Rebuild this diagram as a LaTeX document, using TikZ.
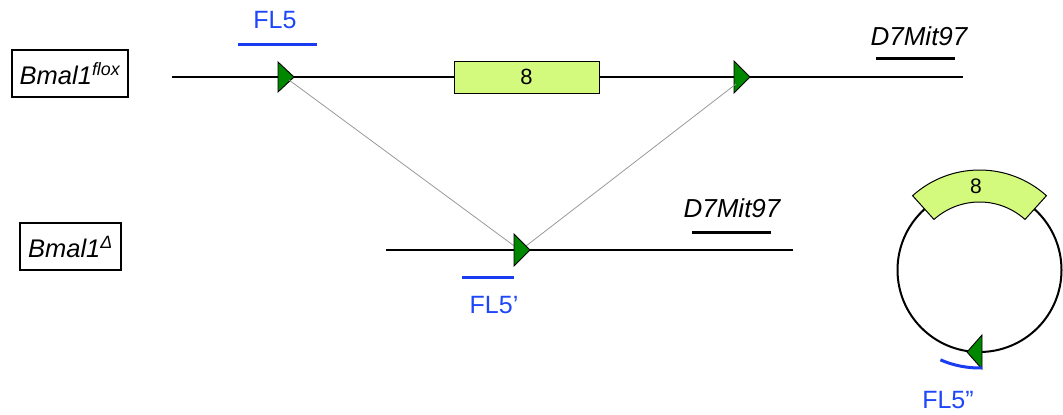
\documentclass[tikz,border=0pt]{standalone}
\usepackage{fontspec}
\setmainfont{Liberation Sans}
\definecolor{loxgreen}{RGB}{0,135,0}
\definecolor{exonfill}{RGB}{212,250,125}
\definecolor{barblue}{RGB}{25,60,240}
\definecolor{txtblue}{RGB}{30,70,250}
\begin{document}
\begin{tikzpicture}[x=1pt,y=-1pt,
  chrom/.style={line width=2.4pt},
  lox/.style={fill=loxgreen, draw=black, line width=0.9pt, line join=miter},
  exon/.style={draw=black, fill=exonfill, line width=1pt, inner sep=0pt, font=\fontsize{22}{24}\selectfont},
  probe/.style={draw=barblue, line width=3pt},
  marker/.style={draw=black, line width=3pt},
  probetxt/.style={text=txtblue, inner sep=0pt, font=\fontsize{25}{27}\selectfont},
  markertxt/.style={inner sep=0pt, font=\fontsize{26}{28}\selectfont\itshape},
  allele/.style={draw=black, line width=1.3pt, inner sep=0pt, font=\fontsize{25.5}{28}\selectfont\itshape},
  recomb/.style={draw=gray!80, line width=0.8pt}]
\useasboundingbox (0,0) rectangle (1063,415);

% allele labels
\node[allele, minimum width=116, minimum height=47] (flox) at (70,73.5) {Bmal1\textsuperscript{flox}};
\node[allele, minimum width=101, minimum height=47] (del) at (70.5,246.5) {Bmal1\textsuperscript{Δ}};

% top chromosome
\coordinate (t1) at (172,77);
\coordinate (t2) at (963,77);
\draw[chrom] (t1) -- (t2);
\node[exon, minimum width=145, minimum height=32] (ex) at (526.5,77) {8};
\filldraw[lox] (278,62) -- (294,77) -- (278,92) -- cycle;
\filldraw[lox] (734,61) -- (750,77) -- (734,93) -- cycle;
\coordinate (loxA) at (289,80);
\coordinate (loxB) at (736,84);

% probes top
\coordinate (p1a) at (238,44); \coordinate (p1b) at (317,44);
\draw[probe] (p1a) -- (p1b);
\node[probetxt] (fl5) at (275,20) {FL5};
\coordinate (m1a) at (876,58); \coordinate (m1b) at (955,58);
\draw[marker] (m1a) -- (m1b);
\node[markertxt] (d7a) at (919,36) {D7Mit97};

% bottom chromosome
\coordinate (b1) at (386,250);
\coordinate (b2) at (793,250);
\draw[chrom] (b1) -- (b2);
\coordinate (loxC1) at (517,248);
\coordinate (loxC2) at (526,246);
\draw[recomb] (loxA) -- (loxC1);
\draw[recomb] (loxB) -- (loxC2);
\filldraw[lox] (514,234) -- (530,250) -- (514,266) -- cycle;

\coordinate (p2a) at (462,277); \coordinate (p2b) at (514,277);
\draw[probe] (p2a) -- (p2b);
\node[probetxt] (fl5p) at (494,305) {FL5’};
\coordinate (m2a) at (692,232); \coordinate (m2b) at (771,232);
\draw[marker] (m2a) -- (m2b);
\node[markertxt] (d7b) at (732,208) {D7Mit97};

% circle
\coordinate (c) at (979.5,270);
\draw[line width=2pt] (c) circle[radius=82];
\filldraw[draw=black, fill=exonfill, line width=1pt]
  ([shift={(-48:100)}]c) arc[start angle=-48, end angle=-132, radius=100]
  -- ([shift={(-132:68)}]c) arc[start angle=-132, end angle=-48, radius=68] -- cycle;
\node[inner sep=0pt, font=\fontsize{21}{23}\selectfont] (ex2) at (976,186) {8};
\filldraw[lox] (982,335) -- (967,352) -- (982,369) -- cycle;
\draw[barblue, line width=3pt] ([shift={(113.5:98)}]c) arc[start angle=113.5, end angle=88.5, radius=98];
\node[probetxt] (fl5pp) at (948,400) {FL5”};
\end{tikzpicture}
\end{document}
